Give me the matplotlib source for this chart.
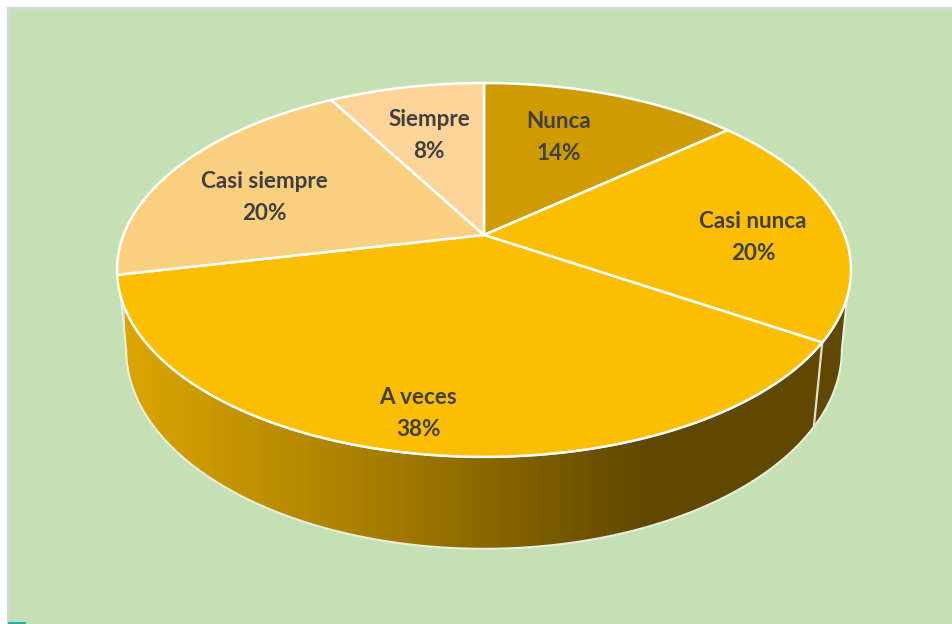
import numpy as np
import matplotlib
matplotlib.use("Agg")
import matplotlib.pyplot as plt
from matplotlib.colors import LinearSegmentedColormap
from matplotlib.patches import Polygon, Rectangle

# Data (estimated from the slice boundaries; the labels show them rounded)
categories = ["Nunca", "Casi nunca", "A veces", "Casi siempre", "Siempre"]
percent = [13.7, 20.3, 37.6, 20.2, 8.2]
slice_colors = ["#CF9C00", "#FBBE00", "#FBBE00", "#FBCF80", "#FCD49A"]

# Layout (pixels of the 952x624 canvas)
label_centres = [(559, 137), (753, 237), (418, 413), (264, 198), (429, 136)]
APEX = (484, 235)
A, B, K = 360.5, 180.4, 0.187      # perspective projection of the pie disc
SX, SY, DROP = 0.975, 1.064, 77.7  # lower rim relative to upper rim
BG = "#C5E0B4"
TXT = "#404040"
FONT = "Lato"

fig = plt.figure(figsize=(9.52, 6.24), dpi=100, facecolor="white")
ax = fig.add_axes([0, 0, 1, 1])
ax.set_xlim(0, 952)
ax.set_ylim(624, 0)
ax.axis("off")


def rim(deg, lower=False):
    """Project clockwise-from-top angles onto the tilted disc."""
    t = np.radians(np.asarray(deg, dtype=float))
    u, v = np.sin(t), np.cos(t)
    w = 1 + K * v
    X, Y = A * u / w, B * v / w
    if lower:
        X, Y = X * SX, Y * SY - DROP
    return np.column_stack([APEX[0] + X, APEX[1] - Y])


# Background panel with its thin grey frame
ax.add_patch(Rectangle((8, 8), 950, 620, fc=BG, ec="#D9D6D6", lw=1.6, zorder=0))

# Side wall with a horizontal gradient
top_arc = rim(np.linspace(108.8, 251.2, 200))
bot_arc = rim(np.linspace(259.2, 100.8, 200), lower=True)
wall = Polygon(np.vstack([top_arc, bot_arc]), closed=True, fc="none",
               ec="#E8EEDC", lw=1.5, zorder=3)
cmap = LinearSegmentedColormap.from_list(
    "wall", [(0, "#DCA600"), (0.5, "#A27B00"), (0.97, "#614800"), (1, "#614800")])
im = ax.imshow(np.linspace(0, 1, 512).reshape(1, -1), cmap=cmap, vmin=0, vmax=1,
               extent=(125, 660, 560, 280), aspect="auto", zorder=2)
dark = ax.add_patch(Rectangle((659, 280), 200, 280, fc="#614800", ec="none", zorder=2))
ax.add_patch(wall)
clip = Polygon(np.vstack([top_arc, bot_arc]), closed=True, transform=ax.transData)
im.set_clip_path(clip)
dark.set_clip_path(clip)
ax.set_xlim(0, 952)
ax.set_ylim(624, 0)

# Top face: slices taken from the percentages
edges = np.cumsum([0] + percent) / sum(percent) * 360
for start, end, colour in zip(edges[:-1], edges[1:], slice_colors):
    arc = rim(np.linspace(start, end, 160))
    ax.add_patch(Polygon(np.vstack([APEX, arc]), closed=True, fc=colour,
                         ec="white", lw=1.8, joinstyle="round", zorder=4))

# Wall seam where the boundary between slices meets the visible side
seam = edges[2]
a, b = rim([seam])[0], rim([seam], lower=True)[0]
ax.plot([a[0], b[0]], [a[1], b[1]], color="#E2E2D2", lw=1.6, zorder=3.5)

# Labels
for name, value, (cx, cy) in zip(categories, percent, label_centres):
    ax.text(cx, cy - 16, name, ha="center", va="center", fontsize=16.2,
            family=FONT, weight="bold", color=TXT, zorder=5)
    ax.text(cx, cy + 16, f"{value:.0f}%", ha="center", va="center", fontsize=16.2,
            family=FONT, weight="bold", color=TXT, zorder=5)

# Small teal mark cut off at the bottom-left corner
ax.add_patch(Rectangle((8, 621.5), 18, 6, fc="#22B2AE", ec="none", zorder=1))

fig.savefig("out.png", dpi=100, facecolor="white")
